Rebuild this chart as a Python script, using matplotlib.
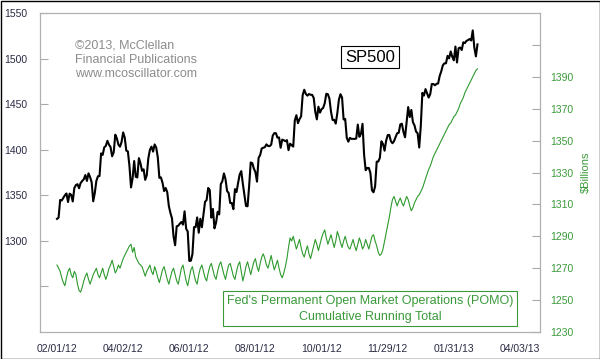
import numpy as np
import pandas as pd
import matplotlib
matplotlib.use('Agg')
import matplotlib.pyplot as plt
from matplotlib.patches import Rectangle

# S&P 500 daily closes, 02/01/12 .. 02/22/13 (Oct 29-30 2012 carried flat)
sp500 = [
    # Feb 2012
    1324.1, 1325.5, 1344.9, 1344.3, 1347.1, 1350.0, 1352.0, 1342.6, 1351.8, 1350.5,
    1343.2, 1358.0, 1361.2, 1362.2, 1357.7, 1363.5, 1365.7, 1367.6, 1372.2, 1365.7,
    # Mar
    1374.1, 1370.0, 1364.3, 1343.4, 1352.6, 1365.9, 1370.9, 1371.1, 1396.0, 1394.3,
    1402.6, 1404.2, 1409.8, 1405.5, 1402.9, 1392.8, 1397.1, 1416.5, 1412.5, 1405.5,
    1403.3, 1408.5,
    # Apr
    1419.0, 1413.4, 1399.0, 1398.1, 1382.2, 1358.6, 1368.7, 1387.6, 1370.3, 1369.6,
    1390.8, 1385.1, 1376.9, 1378.5, 1366.9, 1372.0, 1390.7, 1400.0, 1403.4, 1397.9,
    # May
    1405.8, 1402.3, 1391.6, 1369.1, 1369.6, 1363.7, 1354.6, 1358.0, 1353.4, 1338.4,
    1330.7, 1324.8, 1304.9, 1295.2, 1316.0, 1316.6, 1318.9, 1320.7, 1317.8, 1332.4,
    1313.3, 1310.3,
    # Jun
    1278.0, 1278.2, 1285.5, 1315.1, 1315.0, 1325.7, 1308.9, 1324.2, 1314.9, 1329.1,
    1342.8, 1344.8, 1358.0, 1355.7, 1325.5, 1335.0, 1313.7, 1320.0, 1331.9, 1329.0,
    1362.2,
    # Jul
    1365.5, 1374.0, 1367.6, 1354.7, 1352.5, 1341.5, 1341.5, 1334.8, 1356.8, 1353.6,
    1363.7, 1372.8, 1376.5, 1362.7, 1350.5, 1338.3, 1337.9, 1360.0, 1386.0, 1385.3,
    1379.3,
    # Aug
    1375.3, 1365.0, 1391.0, 1394.2, 1401.4, 1402.2, 1402.8, 1405.9, 1404.1, 1403.9,
    1405.5, 1415.5, 1418.2, 1418.1, 1413.2, 1413.5, 1402.1, 1411.1, 1410.4, 1409.3,
    1410.5, 1399.5, 1406.6,
    # Sep
    1404.9, 1403.4, 1432.1, 1437.9, 1429.1, 1433.6, 1436.6, 1460.0, 1465.8, 1461.2,
    1459.3, 1461.1, 1460.3, 1460.2, 1456.9, 1441.6, 1433.3, 1447.2, 1440.7,
    # Oct
    1444.5, 1445.8, 1451.0, 1461.4, 1460.9, 1455.9, 1441.5, 1432.6, 1432.8, 1428.6,
    1440.1, 1454.9, 1460.9, 1457.3, 1433.2, 1433.8, 1413.1, 1408.8, 1413.0, 1411.9,
    1411.9, 1411.9, 1412.2,
    # Nov
    1427.6, 1414.2, 1417.3, 1428.4, 1394.5, 1377.5, 1379.9, 1380.0, 1374.5, 1355.5,
    1353.3, 1359.9, 1386.9, 1387.0, 1391.0, 1409.2, 1406.3, 1398.9, 1409.9, 1416.0,
    1416.2,
    # Dec
    1409.5, 1407.1, 1409.3, 1413.9, 1418.1, 1418.6, 1427.8, 1428.5, 1419.5, 1413.6,
    1430.4, 1446.8, 1435.8, 1443.7, 1430.2, 1426.7, 1419.8, 1418.1, 1402.4, 1426.2,
    # Jan 2013
    1462.4, 1459.4, 1466.5, 1461.9, 1457.2, 1461.0, 1472.1, 1472.1, 1470.7, 1472.3,
    1472.6, 1480.9, 1486.0, 1492.6, 1494.8, 1494.8, 1503.0, 1500.2, 1507.8, 1502.0,
    1498.1,
    # Feb 2013
    1513.2, 1495.7, 1511.3, 1512.1, 1509.4, 1517.9, 1517.0, 1519.4, 1520.3, 1521.4,
    1519.8, 1530.9, 1512.0, 1502.4, 1515.6,
]

# Fed POMO cumulative running total ($Billions), same trading days
pomo = [
    1272, 1270, 1268, 1264, 1261, 1259, 1264, 1268, 1270, 1266,
    1264, 1268, 1266, 1260, 1256, 1255, 1258, 1262, 1265, 1267,
    1263, 1260, 1263, 1266, 1268, 1270, 1266, 1264, 1267, 1270,
    1266, 1263, 1266, 1270, 1272, 1275, 1271, 1267, 1269, 1272,
    1270, 1273, 1276, 1278, 1280, 1282, 1284, 1285, 1280, 1283,
    1277, 1275, 1273, 1272, 1271, 1268, 1265, 1268, 1270, 1272,
    1268, 1266,
    1271, 1268, 1264, 1261, 1265, 1269, 1271, 1267, 1263, 1260,
    1264, 1268, 1270, 1266, 1262, 1260, 1265, 1270, 1272, 1267,
    1262, 1259, 1264, 1269, 1271, 1266, 1262, 1260, 1266, 1270,
    1272, 1268, 1264, 1262, 1267, 1271, 1273, 1269, 1265, 1263,
    1268, 1272, 1274, 1270, 1266, 1263, 1268, 1272, 1273, 1269,
    1265, 1263, 1268, 1272, 1274, 1268, 1262, 1266, 1271, 1274,
    1270, 1266, 1270, 1274, 1276, 1271, 1268, 1273, 1277, 1279,
    1276, 1272, 1270, 1274, 1278, 1273, 1269, 1272, 1275, 1270,
    1266, 1264, 1267, 1271, 1276, 1283, 1289, 1287, 1290, 1286,
    1282, 1285, 1288, 1283, 1279, 1277, 1281, 1284, 1279, 1276,
    1280, 1284, 1288, 1285, 1281, 1285, 1289, 1292, 1294, 1289,
    1285, 1288, 1291, 1287, 1283, 1287, 1293, 1290, 1286, 1283,
    1287, 1290, 1286, 1283, 1282, 1285, 1288, 1284, 1281, 1285,
    1289, 1286, 1282, 1284, 1288, 1285, 1282, 1286, 1290, 1291,
    1287, 1284, 1280, 1278, 1279, 1282, 1287, 1292, 1297, 1302,
    1308, 1313, 1315, 1312, 1309, 1312, 1314, 1311, 1309, 1312,
    1315, 1313, 1309, 1306, 1308, 1311, 1313, 1315, 1316, 1318,
    1320, 1323, 1326, 1329, 1332, 1334, 1337, 1340, 1342, 1344,
    1346, 1348, 1350, 1352, 1354, 1356, 1358, 1360, 1361, 1363,
    1365, 1366, 1368, 1370, 1373, 1375, 1377, 1380, 1382, 1384,
    1386, 1388, 1390, 1392, 1394, 1395,
]

holidays = ['2012-02-20', '2012-04-06', '2012-05-28', '2012-07-04', '2012-09-03',
            '2012-11-22', '2012-12-25', '2013-01-01', '2013-01-21', '2013-02-18',
            '2013-03-29']
dates = pd.bdate_range('2012-02-01', '2013-04-03', freq='C', holidays=holidays)

left_ticks = [1250, 1300, 1350, 1400, 1450, 1500, 1550]
left_labels = ['', '1300', '1350', '1400', '1450', '1500', '1550']
right_ticks = [1230, 1250, 1270, 1290, 1310, 1330, 1350, 1370, 1390, 1410]
right_labels = ['1230', '1250', '1270', '1290', '1310', '1330', '1350', '1370', '1390', '']

plt.rcParams['font.family'] = ['Liberation Sans', 'DejaVu Sans']

W, H = 600, 359
green = '#3a9a3a'
label_col = '#2a2a44'

def fx(px):
    return px / W

def fy(py):
    return 1 - py / H

fig = plt.figure(figsize=(W / 100, H / 100), dpi=100)
fig.patch.set_facecolor('white')

ax = fig.add_axes([fx(40), fy(332), 500 / W, 319 / H])
ax2 = ax.twinx()
ax.set_zorder(ax2.get_zorder() + 1)
ax.patch.set_visible(False)

ax2.plot(np.arange(len(pomo)), pomo, color='#2e9a2e', lw=0.8)
ax.plot(np.arange(len(sp500)), sp500, color='black', lw=1.5)

ax.set_xlim(-10.8, 306.7)
ax.set_ylim(1200, 1550)
ax2.set_ylim(1230, 1430)

xt = np.arange(0, len(dates), 42)
ax.set_xticks(xt)
ax.set_xticklabels(dates[xt].strftime('%m/%d/%y'))
ax.tick_params(axis='x', length=0, labelsize=7.5, labelcolor=label_col, pad=9)

ax.set_yticks(left_ticks)
ax.set_yticklabels(left_labels)
ax.tick_params(axis='y', direction='in', length=6, width=0.8, color='#aaaaaa',
               labelsize=7.5, labelcolor=label_col, pad=9)

ax2.set_yticks(right_ticks)
ax2.set_yticklabels(right_labels)
ax2.tick_params(axis='y', direction='in', length=6, width=0.8, color='#aaaaaa',
                labelsize=7.5, labelcolor=green, pad=7)

for a in (ax, ax2):
    for s in a.spines.values():
        s.set_color('#b0b0b0')
        s.set_linewidth(0.8)

fig.text(fx(586), fy(172), r'\$Billions', rotation=90, color=green, fontsize=8,
         ha='center', va='center')

fig.text(fx(75), fy(60), '©2013, McClellan\nFinancial Publications\nwww.mcoscillator.com',
         color='#8c8c8c', fontsize=9, ha='left', va='center', linespacing=1.25)

fig.text(fx(370), fy(57), 'SP500', fontsize=12, ha='center', va='center',
         bbox=dict(boxstyle='square,pad=0.22', fc='white', ec='black', lw=0.8))

fig.add_artist(Rectangle((fx(223), fy(326)), 294 / W, 35 / H, transform=fig.transFigure,
                         fc='white', ec=green, lw=0.8))
fig.text(fx(370), fy(301), "Fed's Permanent Open Market Operations (POMO)",
         color=green, fontsize=9, ha='center', va='center')
fig.text(fx(370), fy(317), 'Cumulative Running Total',
         color=green, fontsize=9, ha='center', va='center')

fig.add_artist(Rectangle((0.5 / W, 0.5 / H), 1 - 1 / W, 1 - 1 / H, transform=fig.transFigure,
                         fill=False, ec='black', lw=1.0))

fig.savefig('out.png', dpi=100)
